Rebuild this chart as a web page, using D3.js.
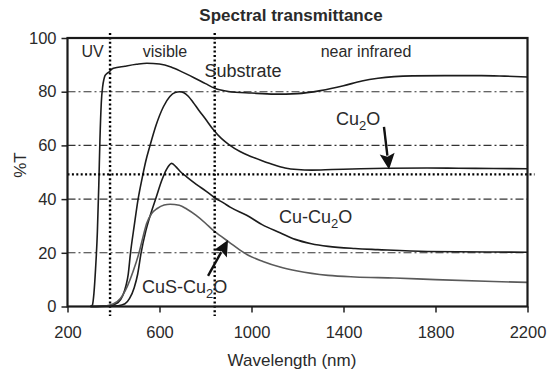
<!DOCTYPE html>
<html><head><meta charset="utf-8">
<script src="https://cdn.jsdelivr.net/npm/d3@7"></script>
<style>
body{margin:0;background:#fff}
text{font-family:"Liberation Sans",Arial,Helvetica,sans-serif;fill:#2a2a2a}
</style>
</head><body>
<svg id="chart" width="550" height="370"></svg>
<script>
// ---- data ----
const xTicks = [200, 600, 1000, 1400, 1800, 2200];
const yTicks = [0, 20, 40, 60, 80, 100];
const gridLevels = [20, 40, 60, 80];
const regionBounds = [385, 840];      // nm : UV | visible | near infrared
const referenceLevel = 49.2;          // %T dotted reference line
const regionNames = ["UV", "visible", "near infrared"];

const substrate = [[300,0],[308,0.5],[315,5],[322,14],[330,28],[336,45],[341,62],[347,76],[353,82],[358,84.5],[363,86],[372,86.8],[380,87.3],[390,88.2],[400,88.7],[450,89.5],[500,90.2],[545,90.6],[600,90.3],[650,89.2],[700,87.3],[750,85.2],[800,83],[840,81.3],[900,80.1],[1000,79.5],[1100,79.1],[1200,79.3],[1300,80.4],[1400,82.2],[1480,84],[1550,85],[1620,85.6],[1700,85.9],[1840,86],[2000,86],[2100,85.8],[2200,85.5]];

const cu2o = [[300,0],[380,0.3],[420,1.5],[440,4],[455,8],[464,12],[474,20],[490,30],[507,40],[525,48],[540,54],[559,60],[585,67.5],[617,74.4],[645,78.2],[668,79.7],[688,80],[706,79.6],[725,78.3],[745,76.2],[770,73.2],[800,69.8],[830,66.3],[870,62.5],[902,60.3],[950,57.7],[1000,55.8],[1046,54.3],[1100,52.7],[1146,51.6],[1200,51],[1261,50.8],[1350,51],[1476,51.3],[1600,51.5],[1765,51.6],[1900,51.5],[2052,51.4],[2200,51.3]];

const cuCu2o = [[300,0],[420,0.3],[450,1],[470,3],[490,7],[505,12],[520,20],[540,28],[560,34],[585,40.5],[610,47],[630,51],[653,53.3],[672,52],[690,50.3],[718,48.3],[760,45.5],[805,42.8],[840,40.5],[880,38.5],[907,37],[979,34],[1046,30.5],[1124,27.5],[1190,25],[1260,23.4],[1333,22.4],[1450,21.6],[1549,21.2],[1765,20.5],[2052,20.3],[2200,20.2]];

const cusCu2o = [[300,0],[370,0.3],[400,1],[430,3],[460,7.5],[485,13],[511,20],[530,26.5],[544,30.9],[565,34.5],[590,36.5],[620,37.8],[646,38.1],[686,37.7],[720,36.2],[758,34],[800,31],[830,28.6],[870,26],[905,23.8],[950,21],[988,19],[1050,16.8],[1124,14.7],[1200,13.2],[1333,11.6],[1450,11],[1621,10.6],[1800,10],[2052,9.3],[2200,9]];

// ---- layout ----
const svg = d3.select("#chart");
const x = d3.scaleLinear().domain([200, 2200]).range([67.5, 527.5]);
const y = d3.scaleLinear().domain([0, 100]).range([306.5, 38]);

// title
svg.append("text").attr("x", 291).attr("y", 21).attr("text-anchor", "middle")
  .style("font-size", "17px").style("font-weight", "bold").text("Spectral transmittance");

// grid (dash-dot)
svg.append("g").selectAll("line").data(gridLevels).join("line")
  .attr("x1", x(200)).attr("x2", x(2200))
  .attr("y1", d => y(d)).attr("y2", d => y(d))
  .attr("stroke", "#333").attr("stroke-width", 1.1)
  .attr("stroke-dasharray", "8,3,2,3");

// axes
const xAxis = svg.append("g").attr("transform", `translate(0,${y(0)})`)
  .call(d3.axisBottom(x).tickValues(xTicks).tickSize(6).tickPadding(14).tickFormat(d3.format("d")));
const yAxis = svg.append("g").attr("transform", `translate(${x(200)},0)`)
  .call(d3.axisLeft(y).tickValues(yTicks).tickSize(6).tickPadding(5));
[xAxis, yAxis].forEach(g => {
  g.select(".domain").remove();
  g.selectAll(".tick line").attr("stroke", "#222").attr("stroke-width", 1.5);
  g.selectAll(".tick text").style("font-size", "16.5px").style("font-family", "'Liberation Sans',Arial,sans-serif").attr("fill", "#2a2a2a");
});

// curves
const line = d3.line().x(d => x(d[0])).y(d => y(d[1])).curve(d3.curveMonotoneX);
const series = [
  {data: substrate, color: "#1c1c1c"},
  {data: cu2o, color: "#1c1c1c"},
  {data: cuCu2o, color: "#1c1c1c"},
  {data: cusCu2o, color: "#5a5a5a"}
];
svg.append("g").selectAll("path").data(series).join("path")
  .attr("d", d => line(d.data)).attr("fill", "none")
  .attr("stroke", d => d.color).attr("stroke-width", 1.6).attr("stroke-linejoin", "round");

// dotted region bounds and reference level
svg.append("g").selectAll("line").data(regionBounds).join("line")
  .attr("x1", d => x(d)).attr("x2", d => x(d))
  .attr("y1", 33).attr("y2", 316)
  .attr("stroke", "#000").attr("stroke-width", 2.4).attr("stroke-dasharray", "2,2.4");
svg.append("line")
  .attr("x1", x(200)).attr("x2", x(2200) + 7)
  .attr("y1", y(referenceLevel)).attr("y2", y(referenceLevel))
  .attr("stroke", "#000").attr("stroke-width", 2.4).attr("stroke-dasharray", "2,2.4");

// frame
svg.append("rect").attr("x", x(200)).attr("y", y(100))
  .attr("width", x(2200) - x(200)).attr("height", y(0) - y(100))
  .attr("fill", "none").attr("stroke", "#1a1a1a").attr("stroke-width", 2.2);

// region names
const regionCenters = [92.5, 165, 366];
regionNames.forEach((t, i) => {
  svg.append("text").attr("x", regionCenters[i]).attr("y", 57)
    .attr("text-anchor", "middle").style("font-size", "16px").text(t);
});

// series labels
function label(px, py, parts, anchor) {
  const t = svg.append("text").attr("x", px).attr("y", py).style("font-size", "18px")
    .attr("text-anchor", anchor || "start");
  let shifted = false;
  parts.forEach(p => {
    const ts = t.append("tspan").text(p.t);
    if (p.sub) { ts.attr("dy", 5).style("font-size", "13px"); shifted = true; }
    else if (shifted) { ts.attr("dy", -5); shifted = false; }
  });
  return t;
}
label(243, 77, [{t: "Substrate"}], "middle");
label(336, 125, [{t: "Cu"}, {t: "2", sub: true}, {t: "O"}]);
label(279, 223, [{t: "Cu-Cu"}, {t: "2", sub: true}, {t: "O"}]);
label(142, 293, [{t: "CuS-Cu"}, {t: "2", sub: true}, {t: "O"}]);

// arrows (tail -> tip, in data units)
function arrow(from, to) {
  const x0 = x(from[0]), y0 = y(from[1]), x1 = x(to[0]), y1 = y(to[1]);
  const dx = x1 - x0, dy = y1 - y0, L = Math.hypot(dx, dy);
  const ux = dx / L, uy = dy / L, hl = 16, hw = 7.5;
  const bx = x1 - ux * hl, by = y1 - uy * hl;
  svg.append("line").attr("x1", x0).attr("y1", y0).attr("x2", bx + ux * 2).attr("y2", by + uy * 2)
    .attr("stroke", "#111").attr("stroke-width", 2.4);
  svg.append("path")
    .attr("d", `M${x1},${y1}L${bx - uy * hw},${by + ux * hw}L${bx + ux * 3},${by + uy * 3}L${bx + uy * hw},${by - ux * hw}Z`)
    .attr("fill", "#111");
}
arrow([1576, 66.9], [1598, 51]);
arrow([811, 11.4], [898, 24.8]);

// axis titles
svg.append("text").attr("transform", "translate(26,165) rotate(-90)").attr("text-anchor", "middle")
  .style("font-size", "17px").text("%T");
svg.append("text").attr("x", 292).attr("y", 366).attr("text-anchor", "middle")
  .style("font-size", "17px").text("Wavelength (nm)");
</script>
</body></html>
